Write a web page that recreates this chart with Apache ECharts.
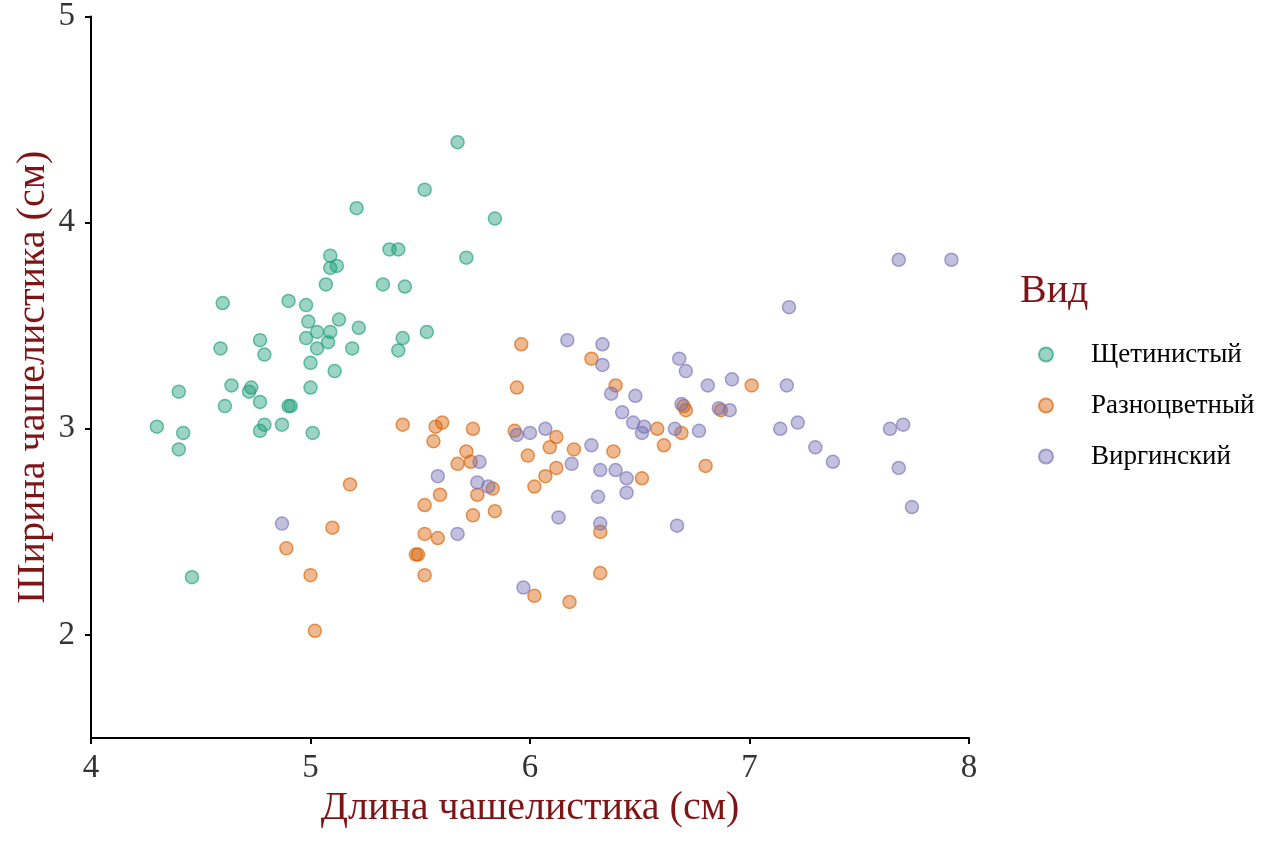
<!DOCTYPE html>
<html>
<head>
<meta charset="utf-8">
<script src="https://cdn.jsdelivr.net/npm/echarts@6/dist/echarts.min.js"></script>
<style>
  html, body { margin: 0; padding: 0; background: #fff; }
  #chart { width: 1264px; height: 843px; }
</style>
</head>
<body>
<div id="chart"></div>
<script>
// Виды
const species = ['Щетинистый', 'Разноцветный', 'Виргинский'];
const colors = ['27,158,119', '217,95,2', '117,112,179'];

// Щетинистый: длина / ширина чашелистика
const setosaLength = [5.67, 5.52, 5.21, 5.84, 5.36, 5.40, 5.71, 5.09, 5.09, 5.12,
  5.07, 5.33, 5.43, 4.60, 4.90, 4.98, 4.99, 5.13, 5.22, 5.03,
  5.09, 5.53, 4.98, 5.42, 4.77, 4.59, 5.03, 5.08, 5.19, 5.40,
  4.79, 5.00, 5.11, 4.64, 4.73, 4.72, 5.00, 4.40, 4.77, 4.61,
  4.90, 4.91, 4.30, 4.42, 4.79, 4.77, 4.87, 5.01, 4.40, 4.46];
const setosaWidth = [4.39, 4.16, 4.07, 4.02, 3.87, 3.87, 3.83, 3.84, 3.78, 3.79,
  3.70, 3.70, 3.69, 3.61, 3.62, 3.60, 3.52, 3.53, 3.49, 3.47,
  3.47, 3.47, 3.44, 3.44, 3.43, 3.39, 3.39, 3.42, 3.39, 3.38,
  3.36, 3.32, 3.28, 3.21, 3.20, 3.18, 3.20, 3.18, 3.13, 3.11,
  3.11, 3.11, 3.01, 2.98, 3.02, 2.99, 3.02, 2.98, 2.90, 2.28];

// Разноцветный
const versicolorLength = [5.96, 5.94, 5.42, 5.57, 5.60, 5.74, 5.93, 5.56, 5.71, 5.67,
  5.73, 5.99, 5.18, 5.59, 5.83, 5.76, 5.52, 5.74, 5.84, 6.02,
  5.10, 4.89, 5.52, 5.58, 5.48, 5.49, 5.00, 5.52, 6.02, 5.02,
  6.28, 6.39, 7.01, 6.70, 6.71, 6.12, 6.09, 6.20, 6.12, 6.07,
  6.38, 6.51, 6.58, 6.61, 6.69, 6.80, 6.32, 6.32, 6.18, 6.87];
const versicolorWidth = [3.41, 3.20, 3.02, 3.01, 3.03, 3.00, 2.99, 2.94, 2.89, 2.83,
  2.84, 2.87, 2.73, 2.68, 2.71, 2.68, 2.63, 2.58, 2.60, 2.72,
  2.52, 2.42, 2.49, 2.47, 2.39, 2.39, 2.29, 2.29, 2.19, 2.02,
  3.34, 3.21, 3.21, 3.11, 3.09, 2.96, 2.91, 2.90, 2.81, 2.77,
  2.89, 2.76, 3.00, 2.92, 2.98, 2.82, 2.50, 2.30, 2.16, 3.09];

// Виргинский
const virginicaLength = [5.94, 6.00, 5.77, 5.58, 5.76, 5.81, 4.87, 5.67, 5.97,
  6.17, 6.33, 6.33, 6.68, 6.71, 6.81, 6.92, 6.37, 6.48, 6.69,
  6.91, 6.42, 6.47, 6.52, 6.51, 6.66, 6.77, 6.07, 6.28, 6.19,
  6.32, 6.39, 6.44, 6.44, 6.31, 6.13, 6.32, 6.67, 6.86,
  7.68, 7.92, 7.18, 7.17, 7.22, 7.14, 7.30, 7.38, 7.64, 7.70, 7.68, 7.74];
const virginicaWidth = [2.97, 2.98, 2.84, 2.77, 2.74, 2.72, 2.54, 2.49, 2.23,
  3.43, 3.41, 3.31, 3.34, 3.28, 3.21, 3.24, 3.17, 3.16, 3.12,
  3.09, 3.08, 3.03, 3.01, 2.98, 3.00, 2.99, 3.00, 2.92, 2.83,
  2.80, 2.80, 2.76, 2.69, 2.67, 2.57, 2.54, 2.53, 3.10,
  3.82, 3.82, 3.59, 3.21, 3.03, 3.00, 2.91, 2.84, 3.00, 3.02, 2.81, 2.62];

const xTicks = [4, 5, 6, 7, 8];
const yTicks = [2, 3, 4, 5];

const zip = (a, b) => a.map((v, i) => [v, b[i]]);
const allData = [
  zip(setosaLength, setosaWidth),
  zip(versicolorLength, versicolorWidth),
  zip(virginicaLength, virginicaWidth)
];

const font = 'Liberation Serif, Times New Roman, serif';
const titleColor = '#7f1416';

let myChart = echarts.init(document.getElementById('chart'), null, { renderer: 'canvas' });

let option = {
  backgroundColor: '#fff',
  animation: false,
  textStyle: { fontFamily: font },
  title: {
    text: 'Вид',
    left: 1015,
    top: 266,
    textStyle: { fontFamily: font, fontSize: 40, fontWeight: 'normal', color: titleColor }
  },
  legend: {
    orient: 'vertical',
    left: 1033,
    top: 336,
    icon: 'circle',
    itemWidth: 14,
    itemHeight: 14,
    itemGap: 24,
    data: species,
    textStyle: { fontFamily: font, fontSize: 27, color: '#000', padding: [0, 0, 0, 33] }
  },
  grid: { left: 91, right: 295, top: 16, bottom: 105 },
  xAxis: {
    type: 'value',
    min: 4,
    max: 8,
    interval: 1,
    name: 'Длина чашелистика (см)',
    nameLocation: 'middle',
    nameGap: 50,
    nameMoveOverlap: false,
    nameTextStyle: { fontFamily: font, fontSize: 40, color: titleColor },
    splitLine: { show: false },
    axisLine: { show: true, onZero: false, lineStyle: { color: '#000', width: 2 } },
    axisTick: { show: true, length: 6, lineStyle: { color: '#000', width: 2 },
      customValues: xTicks },
    axisLabel: { fontFamily: font, fontSize: 33, color: '#333', margin: 14,
      customValues: xTicks }
  },
  yAxis: {
    type: 'value',
    min: 1.5,
    max: 5,
    name: 'Ширина чашелистика (см)',
    nameLocation: 'middle',
    nameGap: 38,
    nameMoveOverlap: false,
    nameTextStyle: { fontFamily: font, fontSize: 40, color: titleColor },
    splitLine: { show: false },
    axisLine: { show: true, onZero: false, lineStyle: { color: '#000', width: 2 } },
    axisTick: { show: true, length: 6, lineStyle: { color: '#000', width: 2 },
      customValues: yTicks },
    axisLabel: { fontFamily: font, fontSize: 33, color: '#333', margin: 16,
      customValues: yTicks }
  },
  series: species.map((name, i) => ({
    name: name,
    type: 'scatter',
    symbol: 'circle',
    symbolSize: 13,
    data: allData[i],
    itemStyle: {
      color: 'rgba(' + colors[i] + ',0.55)',
      borderColor: 'rgba(' + colors[i] + ',0.8)',
      borderWidth: 1.5
    }
  }))
};

myChart.setOption(option);
window.addEventListener('resize', myChart.resize);
</script>
</body>
</html>
